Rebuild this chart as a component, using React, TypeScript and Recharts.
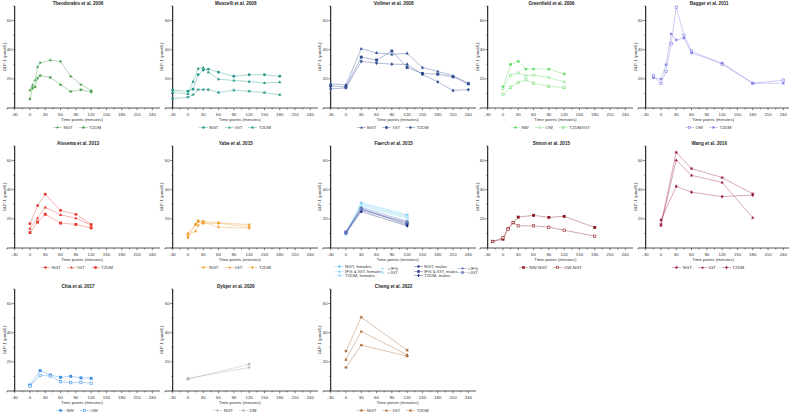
import React from "react";
import { LineChart, Line, XAxis, YAxis, ReferenceLine } from "recharts";

type Shape =
  | "circle"
  | "openCircle"
  | "square"
  | "openSquare"
  | "triangle"
  | "diamond"
  | "star"
  | "plus";

interface Series {
  name: string;
  values: number[];
  color: string;
  shape: Shape;
}

// axis ticks
const X_TICKS = [-45, -30, -15, 0, 15, 30, 45, 60, 75, 90, 105, 120, 135, 150, 165, 180, 195, 210, 225, 240];
const Y_TICKS = [0, 10, 20, 30, 40, 50, 60, 70];

// Theodorakis et al. 2006
const THEO_TIMES = [0, 5, 10, 15, 20, 40, 60, 80, 100, 120];
const THEO_NGT = [12.2, 15.7, 19, 28.2, 31, 32.8, 32, 21.7, 16, 12];
const THEO_T2DM = [6.2, 13.6, 14.5, 20.5, 22.2, 21, 16, 11.3, 12.5, 10.9];

// Muscelli et al. 2008
const MUS_TIMES = [-30, 0, 10, 20, 30, 40, 60, 90, 120, 150, 180];
const MUS_NGT = [12.2, 11.5, 12.9, 22.8, 26, 26.7, 24.6, 21.8, 22.8, 22.8, 21.8];
const MUS_IGT = [10.8, 9.7, 18.2, 27.1, 27.8, 24.6, 19.8, 18.9, 18.2, 17.2, 17.7];
const MUS_T2DM = [6.4, 7.4, 9.2, 12.6, 12.6, 12.6, 10.6, 12.2, 11.5, 10.6, 9];

// Vollmer et al. 2008
const VOL_TIMES = [-30, 0, 30, 60, 90, 120, 150, 180, 210, 240];
const VOL_NGT = [16.6, 15.9, 40.7, 37.9, 36.8, 37.5, 27.8, 25.1, 22.1, 17];
const VOL_IGT = [15.2, 14.5, 34.9, 32.9, 39.1, 27.8, 23.7, 23.2, 21.4, 16.6];
const VOL_T2DM = [13.1, 13.8, 32, 30.8, 30.1, 29.9, 23, 17.9, 12, 12.6];

// Greenfield et al. 2009
const GRE_TIMES = [0, 15, 30, 45, 60, 90, 120];
const GRE_NW = [14.5, 29.9, 32, 26.7, 26.7, 26.7, 23.4];
const GRE_OW = [13.3, 22.5, 24.1, 22.1, 22.5, 20.9, 17.9];
const GRE_T2DM = [9.4, 14.3, 17.5, 19.3, 17, 14.9, 14];

// Bagger et al. 2011
const BAG_TIMES = [-15, 0, 10, 20, 30, 45, 60, 120, 180, 240];
const BAG_OW = [22.1, 16.8, 25.1, 44.1, 69.2, 49.9, 39.1, 30.1, 17, 19.1];
const BAG_T2DM = [20.7, 19.8, 29.7, 50.8, 46.7, 48, 37.7, 30.8, 17, 17];

// Alssema et al. 2013
const ALS_TIMES = [0, 15, 30, 60, 90, 120];
const ALS_NGT = [16.6, 29.1, 36.9, 25.8, 23.1, 16.2];
const ALS_IGT = [13.4, 20.5, 27.9, 22.8, 20.5, 15.7];
const ALS_T2DM = [10.6, 17.8, 23.1, 17.1, 16.2, 13.8];

// Yabe et al. 2015
const YAB_TIMES = [0, 15, 20, 30, 60, 120];
const YAB_NGT = [10, 16.4, 18.8, 18.3, 17.3, 16];
const YAB_IGT = [8.8, 11.4, 15.5, 17.8, 14.3, 13.6];
const YAB_T2DM = [7.2, 16, 18, 16.9, 17, 14.5];

// Faerch et al. 2015
const FAE_TIMES = [0, 30, 120];
const FAE_NGT_F = [10.5, 31, 22.8];
const FAE_IFGIGT_F = [9.6, 29.5, 21.5];
const FAE_T2DM_F = [9.2, 28, 20.5];
const FAE_IIFG_F = [10, 30.2, 22];
const FAE_IIGT_F = [9.8, 28.8, 21];
const FAE_NGT_M = [11, 27, 16];
const FAE_IFGIGT_M = [10.6, 26, 17.2];
const FAE_T2DM_M = [10.2, 25, 15.2];
const FAE_IIFG_M = [11.2, 27.6, 18.4];
const FAE_IIGT_M = [10.8, 26.5, 17.8];

// Simon et al. 2015
const SIM_TIMES = [-20, 0, 10, 20, 30, 60, 90, 120, 180];
const SIM_NW = [4.6, 6, 13.2, 17.3, 21.2, 22.4, 21, 21.7, 14.1];
const SIM_OW = [4.4, 7, 13, 17.5, 15.2, 15.2, 14.3, 12.2, 8.1];

// Wang et al. 2016
const WAN_TIMES = [0, 30, 60, 120, 180];
const WAN_NGT = [16.2, 65.6, 54.5, 48.3, 37.2];
const WAN_IGT = [15.5, 60.3, 49.9, 45, 20.8];
const WAN_T2DM = [19.2, 42.3, 38.3, 35.3, 36.3];

// Chia et al. 2017
const CHI_TIMES = [0, 20, 40, 60, 80, 100, 120];
const CHI_NW = [4.1, 14, 11, 9.4, 10.1, 9, 8.7];
const CHI_OW = [3.4, 10.8, 10.3, 6.4, 5.7, 6, 5.3];

// Dybjer et al. 2020
const DYB_TIMES = [0, 120];
const DYB_NGT = [8.7, 16.1];
const DYB_DM = [8, 18.4];

// Cheng et al. 2022
const CHE_TIMES = [0, 30, 120];
const CHE_NGT = [27.4, 50.6, 28];
const CHE_IGT = [21.6, 40.9, 24.8];
const CHE_T2DM = [16.1, 31.5, 23.9];

const FONT = "'Liberation Sans', Arial, sans-serif";
const AXIS = "#2b2b2b";

// panel geometry
const CW = 160;
const CH = 120;
const PLOT_L = 7;
const PLOT_B = 108;
const Y_LINE_X = PLOT_L + (15 / 300) * (CW - PLOT_L);
const COL_X = [0, 157.8, 315.6, 473.4, 631.2];
const ROW_Y = [0, 140, 283];

function Marker({ cx, cy, shape, color, s = 1.45 }: { cx: number; cy: number; shape: Shape; color: string; s?: number }) {
  switch (shape) {
    case "circle":
      return <circle cx={cx} cy={cy} r={s} fill={color} />;
    case "openCircle":
      return <circle cx={cx} cy={cy} r={s - 0.2} fill="#fff" stroke={color} strokeWidth={0.6} />;
    case "square":
      return <rect x={cx - s} y={cy - s} width={2 * s} height={2 * s} fill={color} />;
    case "openSquare":
      return <rect x={cx - s + 0.3} y={cy - s + 0.3} width={2 * s - 0.6} height={2 * s - 0.6} fill="#fff" stroke={color} strokeWidth={0.6} />;
    case "triangle":
      return <polygon points={`${cx},${cy - s * 1.2} ${cx + s * 1.1},${cy + s * 0.8} ${cx - s * 1.1},${cy + s * 0.8}`} fill={color} />;
    case "diamond":
      return <polygon points={`${cx},${cy - s * 1.3} ${cx + s},${cy} ${cx},${cy + s * 1.3} ${cx - s},${cy}`} fill={color} />;
    case "star":
      return (
        <g stroke={color} strokeWidth={0.7}>
          <line x1={cx - s} y1={cy} x2={cx + s} y2={cy} />
          <line x1={cx} y1={cy - s} x2={cx} y2={cy + s} />
          <line x1={cx - s * 0.75} y1={cy - s * 0.75} x2={cx + s * 0.75} y2={cy + s * 0.75} />
          <line x1={cx - s * 0.75} y1={cy + s * 0.75} x2={cx + s * 0.75} y2={cy - s * 0.75} />
        </g>
      );
    case "plus":
    default:
      return (
        <g stroke={color} strokeWidth={0.8}>
          <line x1={cx - s} y1={cy} x2={cx + s} y2={cy} />
          <line x1={cx} y1={cy - s} x2={cx} y2={cy + s} />
        </g>
      );
  }
}

function XTick(props: any) {
  const { x, payload } = props;
  const v = payload.value as number;
  const major = v % 30 === 0;
  return (
    <g>
      <line x1={x} x2={x} y1={PLOT_B} y2={PLOT_B + (major ? 2.2 : 1.4)} stroke={AXIS} strokeWidth={0.6} />
      {major && (
        <text x={x} y={PLOT_B + 8.2} textAnchor="middle" fontSize={4.4} fill="#333" fontFamily={FONT}>
          {v}
        </text>
      )}
    </g>
  );
}

function YTick(props: any) {
  const { y, payload } = props;
  const v = payload.value as number;
  const major = v % 20 === 0 && v > 0;
  return (
    <g>
      <line x1={Y_LINE_X - (major ? 2.4 : 1.4)} x2={Y_LINE_X} y1={y} y2={y} stroke={AXIS} strokeWidth={0.6} />
      {major && (
        <text x={Y_LINE_X - 3} y={y + 1.5} textAnchor="end" fontSize={4.4} fill="#333" fontFamily={FONT}>
          {v}
        </text>
      )}
    </g>
  );
}

function LegendMark({ color, shape }: { color: string; shape: Shape }) {
  return (
    <svg width={9} height={5} style={{ display: "block", flex: "none" }}>
      <line x1={0} x2={9} y1={2.5} y2={2.5} stroke={color} strokeOpacity={0.6} strokeWidth={0.6} />
      <Marker cx={4.5} cy={2.5} shape={shape} color={color} s={1.3} />
    </svg>
  );
}

function LegendItem({ s }: { s: Series }) {
  return (
    <div style={{ display: "flex", alignItems: "center", gap: 1.5, whiteSpace: "nowrap" }}>
      <LegendMark color={s.color} shape={s.shape} />
      <span style={{ fontSize: 4.4, lineHeight: "5px", color: "#333" }}>{s.name}</span>
    </div>
  );
}

interface PanelProps {
  col: number;
  row: number;
  title: string;
  times: number[];
  series: Series[];
  legendSlots?: { x: number; y: number }[];
}

function Panel({ col, row, title, times, series, legendSlots }: PanelProps) {
  const data = times.map((t, i) => {
    const r: Record<string, number> = { t };
    series.forEach((s, j) => {
      r[`s${j}`] = s.values[i];
    });
    return r;
  });

  return (
    <div style={{ position: "absolute", left: COL_X[col], top: ROW_Y[row], width: CW, height: 140, fontFamily: FONT }}>
      <div
        style={{
          position: "absolute",
          left: 0,
          width: 156,
          top: 0.5,
          textAlign: "center",
          fontSize: 4.6,
          lineHeight: "5px",
          fontWeight: 700,
          color: "#222",
          whiteSpace: "nowrap",
        }}
      >
        {title}
      </div>
      <div style={{ position: "absolute", left: 0, top: 0 }}>
        <LineChart width={CW} height={CH} data={data} margin={{ top: 6, right: 0, bottom: 0, left: 0 }}>
          <XAxis
            type="number"
            dataKey="t"
            domain={[-45, 255]}
            ticks={X_TICKS}
            interval={0}
            height={CH - PLOT_B}
            axisLine={{ stroke: AXIS, strokeWidth: 0.8 }}
            tickLine={false}
            tick={(p: any) => <XTick key={`x${p.payload.value}`} {...p} />}
          />
          <YAxis
            type="number"
            domain={[0, 70]}
            ticks={Y_TICKS}
            interval={0}
            width={PLOT_L}
            axisLine={false}
            tickLine={false}
            tick={(p: any) => <YTick key={`y${p.payload.value}`} {...p} />}
          />
          <ReferenceLine x={-30} stroke={AXIS} strokeWidth={1.2} />
          {series.map((s, j) => (
            <Line
              key={s.name + j}
              dataKey={`s${j}`}
              type="linear"
              stroke={s.color}
              strokeOpacity={0.55}
              strokeWidth={0.7}
              isAnimationActive={false}
              activeDot={false}
              connectNulls
              dot={(p: any) =>
                p.cx == null || p.cy == null ? (
                  <g key={`d${j}-${p.index}`} />
                ) : (
                  <g key={`d${j}-${p.index}`}>
                    <Marker cx={p.cx} cy={p.cy} shape={s.shape} color={s.color} />
                  </g>
                )
              }
            />
          ))}
        </LineChart>
      </div>
      <div
        style={{
          position: "absolute",
          left: 3.5,
          top: 57,
          transform: "translate(-50%, -50%) rotate(-90deg)",
          fontSize: 4.2,
          color: "#333",
          whiteSpace: "nowrap",
        }}
      >
        GLP-1 (pmol/L)
      </div>
      <div
        style={{
          position: "absolute",
          left: 0,
          width: 164,
          top: 116.5,
          textAlign: "center",
          fontSize: 4.4,
          lineHeight: "5px",
          color: "#333",
          whiteSpace: "nowrap",
        }}
      >
        Time points (minutes)
      </div>
      {legendSlots ? (
        series.map((s, j) => (
          <div key={s.name + j} style={{ position: "absolute", left: legendSlots[j].x, top: legendSlots[j].y - 2.5 }}>
            <LegendItem s={s} />
          </div>
        ))
      ) : (
        <div
          style={{
            position: "absolute",
            left: 0,
            width: 154,
            top: 124.5,
            display: "flex",
            justifyContent: "center",
            gap: 6,
          }}
        >
          {series.map((s, j) => (
            <LegendItem key={s.name + j} s={s} />
          ))}
        </div>
      )}
    </div>
  );
}

const C_THEO = "#3d9b3d";
const C_MUS = "#279a8c";
const C_VOL = "#2e4d92";
const C_GRE = "#66da66";
const C_BAG = "#7b7be6";
const C_ALS = "#e8392f";
const C_YAB = "#f29a2c";
const C_SIM = "#8c1c22";
const C_WAN = "#9b1b43";
const C_CHI = "#3d8fe6";
const C_DYB = "#a9a9a9";
const C_CHE = "#a6622b";

const FAE_SLOTS = [
  { x: 19, y: 126.5 },
  { x: 19, y: 131 },
  { x: 19, y: 135.5 },
  { x: 62, y: 128 },
  { x: 62, y: 132.5 },
  { x: 98, y: 126.5 },
  { x: 98, y: 131 },
  { x: 98, y: 135.5 },
  { x: 142, y: 128 },
  { x: 142, y: 132.5 },
];

export default function App() {
  return (
    <div style={{ position: "absolute", left: 0, top: 0, width: 789, height: 413, background: "#fff", overflow: "hidden" }}>
      <Panel
        col={0}
        row={0}
        title="Theodorakis et al. 2006"
        times={THEO_TIMES}
        series={[
          { name: "NGT", values: THEO_NGT, color: C_THEO, shape: "plus" },
          { name: "T2DM", values: THEO_T2DM, color: C_THEO, shape: "star" },
        ]}
      />
      <Panel
        col={1}
        row={0}
        title="Muscelli et al. 2008"
        times={MUS_TIMES}
        series={[
          { name: "NGT", values: MUS_NGT, color: C_MUS, shape: "circle" },
          { name: "IGT", values: MUS_IGT, color: C_MUS, shape: "triangle" },
          { name: "T2DM", values: MUS_T2DM, color: C_MUS, shape: "star" },
        ]}
      />
      <Panel
        col={2}
        row={0}
        title="Vollmer et al. 2008"
        times={VOL_TIMES}
        series={[
          { name: "NGT", values: VOL_NGT, color: C_VOL, shape: "triangle" },
          { name: "IGT", values: VOL_IGT, color: C_VOL, shape: "square" },
          { name: "T2DM", values: VOL_T2DM, color: C_VOL, shape: "diamond" },
        ]}
      />
      <Panel
        col={3}
        row={0}
        title="Greenfield et al. 2009"
        times={GRE_TIMES}
        series={[
          { name: "NW", values: GRE_NW, color: C_GRE, shape: "circle" },
          { name: "OW", values: GRE_OW, color: C_GRE, shape: "openCircle" },
          { name: "T2DM/IGT", values: GRE_T2DM, color: C_GRE, shape: "openSquare" },
        ]}
      />
      <Panel
        col={4}
        row={0}
        title="Bagger et al. 2011"
        times={BAG_TIMES}
        series={[
          { name: "OW", values: BAG_OW, color: C_BAG, shape: "openSquare" },
          { name: "T2DM", values: BAG_T2DM, color: C_BAG, shape: "star" },
        ]}
      />
      <Panel
        col={0}
        row={1}
        title="Alssema et al. 2013"
        times={ALS_TIMES}
        series={[
          { name: "NGT", values: ALS_NGT, color: C_ALS, shape: "circle" },
          { name: "IGT", values: ALS_IGT, color: C_ALS, shape: "triangle" },
          { name: "T2DM", values: ALS_T2DM, color: C_ALS, shape: "square" },
        ]}
      />
      <Panel
        col={1}
        row={1}
        title="Yabe et al. 2015"
        times={YAB_TIMES}
        series={[
          { name: "NGT", values: YAB_NGT, color: C_YAB, shape: "star" },
          { name: "IGT", values: YAB_IGT, color: C_YAB, shape: "plus" },
          { name: "T2DM", values: YAB_T2DM, color: C_YAB, shape: "diamond" },
        ]}
      />
      <Panel
        col={2}
        row={1}
        title="Faerch et al. 2015"
        times={FAE_TIMES}
        legendSlots={FAE_SLOTS}
        series={[
          { name: "NGT, females", values: FAE_NGT_F, color: "#58c4f2", shape: "star" },
          { name: "IFG & IGT, females", values: FAE_IFGIGT_F, color: "#74cdf4", shape: "triangle" },
          { name: "T2DM, females", values: FAE_T2DM_F, color: "#8fd8f6", shape: "star" },
          { name: "i-IFG", values: FAE_IIFG_F, color: "#a6e0f8", shape: "plus" },
          { name: "i-IGT", values: FAE_IIGT_F, color: "#bbe8fa", shape: "square" },
          { name: "NGT, males", values: FAE_NGT_M, color: "#1b2a80", shape: "star" },
          { name: "IFG & IGT, males", values: FAE_IFGIGT_M, color: "#283a96", shape: "square" },
          { name: "T2DM, males", values: FAE_T2DM_M, color: "#1a2f8a", shape: "diamond" },
          { name: "i-IFG", values: FAE_IIFG_M, color: "#5b68b8", shape: "plus" },
          { name: "i-IGT", values: FAE_IIGT_M, color: "#7480c4", shape: "square" },
        ]}
      />
      <Panel
        col={3}
        row={1}
        title="Simon et al. 2015"
        times={SIM_TIMES}
        series={[
          { name: "NW-NGT", values: SIM_NW, color: C_SIM, shape: "square" },
          { name: "OW-NGT", values: SIM_OW, color: C_SIM, shape: "openSquare" },
        ]}
      />
      <Panel
        col={4}
        row={1}
        title="Wang et al. 2016"
        times={WAN_TIMES}
        series={[
          { name: "NGT", values: WAN_NGT, color: C_WAN, shape: "star" },
          { name: "IGT", values: WAN_IGT, color: C_WAN, shape: "triangle" },
          { name: "T2DM", values: WAN_T2DM, color: C_WAN, shape: "diamond" },
        ]}
      />
      <Panel
        col={0}
        row={2}
        title="Chia et al. 2017"
        times={CHI_TIMES}
        series={[
          { name: "NW", values: CHI_NW, color: C_CHI, shape: "square" },
          { name: "OW", values: CHI_OW, color: C_CHI, shape: "openSquare" },
        ]}
      />
      <Panel
        col={1}
        row={2}
        title="Dybjer et al. 2020"
        times={DYB_TIMES}
        series={[
          { name: "NGT", values: DYB_NGT, color: C_DYB, shape: "plus" },
          { name: "DM", values: DYB_DM, color: C_DYB, shape: "star" },
        ]}
      />
      <Panel
        col={2}
        row={2}
        title="Cheng et al. 2022"
        times={CHE_TIMES}
        series={[
          { name: "NGT", values: CHE_NGT, color: C_CHE, shape: "star" },
          { name: "IGT", values: CHE_IGT, color: C_CHE, shape: "triangle" },
          { name: "T2DM", values: CHE_T2DM, color: C_CHE, shape: "star" },
        ]}
      />
    </div>
  );
}
